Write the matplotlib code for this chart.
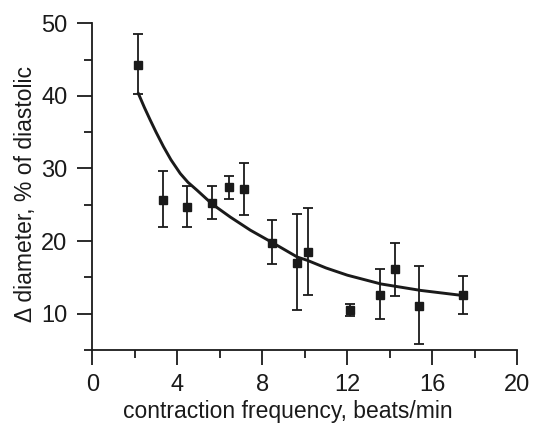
import numpy as np
import matplotlib.pyplot as plt
from matplotlib.ticker import MultipleLocator

plt.rcParams['font.family'] = ['Liberation Sans', 'DejaVu Sans']

# measured points: frequency (beats/min) vs diameter change (% of diastolic)
freq = [2.17, 3.34, 4.47, 5.64, 6.45, 7.13, 8.48, 9.63, 10.14, 12.12, 13.54, 14.24, 15.39, 17.46]
diam = [44.3, 25.7, 24.7, 25.3, 27.4, 27.2, 19.8, 17.0, 18.5, 10.5, 12.6, 16.1, 11.1, 12.6]
err_top = [48.5, 29.7, 27.6, 27.6, 29.0, 30.8, 22.9, 23.7, 24.5, 11.3, 16.1, 19.7, 16.5, 15.2]
err_bot = [40.2, 21.9, 21.9, 23.0, 25.8, 23.6, 16.8, 10.5, 12.6, 9.7, 9.2, 12.4, 5.8, 10.0]

# fitted decay curve
fit_x = [2.17, 2.45, 2.72, 3.0, 3.35, 3.7, 4.14, 4.5, 4.93, 5.64, 6.5, 7.44, 8.47, 9.65,
         10.12, 11.0, 12.01, 13.58, 15.47, 17.45]
fit_y = [40.3, 38.4, 36.7, 35.0, 33.0, 31.2, 29.3, 28.1, 27.0, 25.1, 23.3, 21.5, 19.8, 17.8,
         17.35, 16.3, 15.3, 14.1, 13.2, 12.5]

diam_arr = np.array(diam)
yerr = [diam_arr - np.array(err_bot), np.array(err_top) - diam_arr]

fig = plt.figure(figsize=(5.37, 4.25), dpi=100)
ax = fig.add_axes([0.172, 0.1765, 0.791, 0.7687])

ax.plot(fit_x, fit_y, color='#1a1a1a', lw=2.1, zorder=2)
ax.errorbar(freq, diam, yerr=yerr, fmt='s', color='#1a1a1a', ms=6, elinewidth=1.3,
            capsize=3.8, capthick=1.3, zorder=3)

ax.set_xlim(0, 20)
ax.set_ylim(5, 50)
ax.xaxis.set_major_locator(MultipleLocator(4))
ax.xaxis.set_minor_locator(MultipleLocator(2))
ax.yaxis.set_major_locator(MultipleLocator(10))
ax.yaxis.set_minor_locator(MultipleLocator(5))
ax.set_yticks([10, 20, 30, 40, 50])

ax.spines['top'].set_visible(False)
ax.spines['right'].set_visible(False)
for s in ['left', 'bottom']:
    ax.spines[s].set_linewidth(1.3)
    ax.spines[s].set_color('#1a1a1a')

ax.tick_params(which='major', direction='out', length=11, width=1.3, labelsize=17,
               colors='#1a1a1a')
ax.tick_params(axis='y', which='major', pad=7)
ax.tick_params(axis='x', which='major', pad=6)
ax.tick_params(which='minor', direction='out', length=5.5, width=1.3, colors='#1a1a1a')

ax.set_xlabel('contraction frequency, beats/min', fontsize=16.5, color='#1a1a1a')
ax.set_ylabel('\u0394 diameter, % of diastolic', fontsize=16.5, color='#1a1a1a')
ax.xaxis.set_label_coords(0.461, -0.153)
ax.yaxis.set_label_coords(-0.13, 0.4775)

fig.savefig('out.png', dpi=100)
